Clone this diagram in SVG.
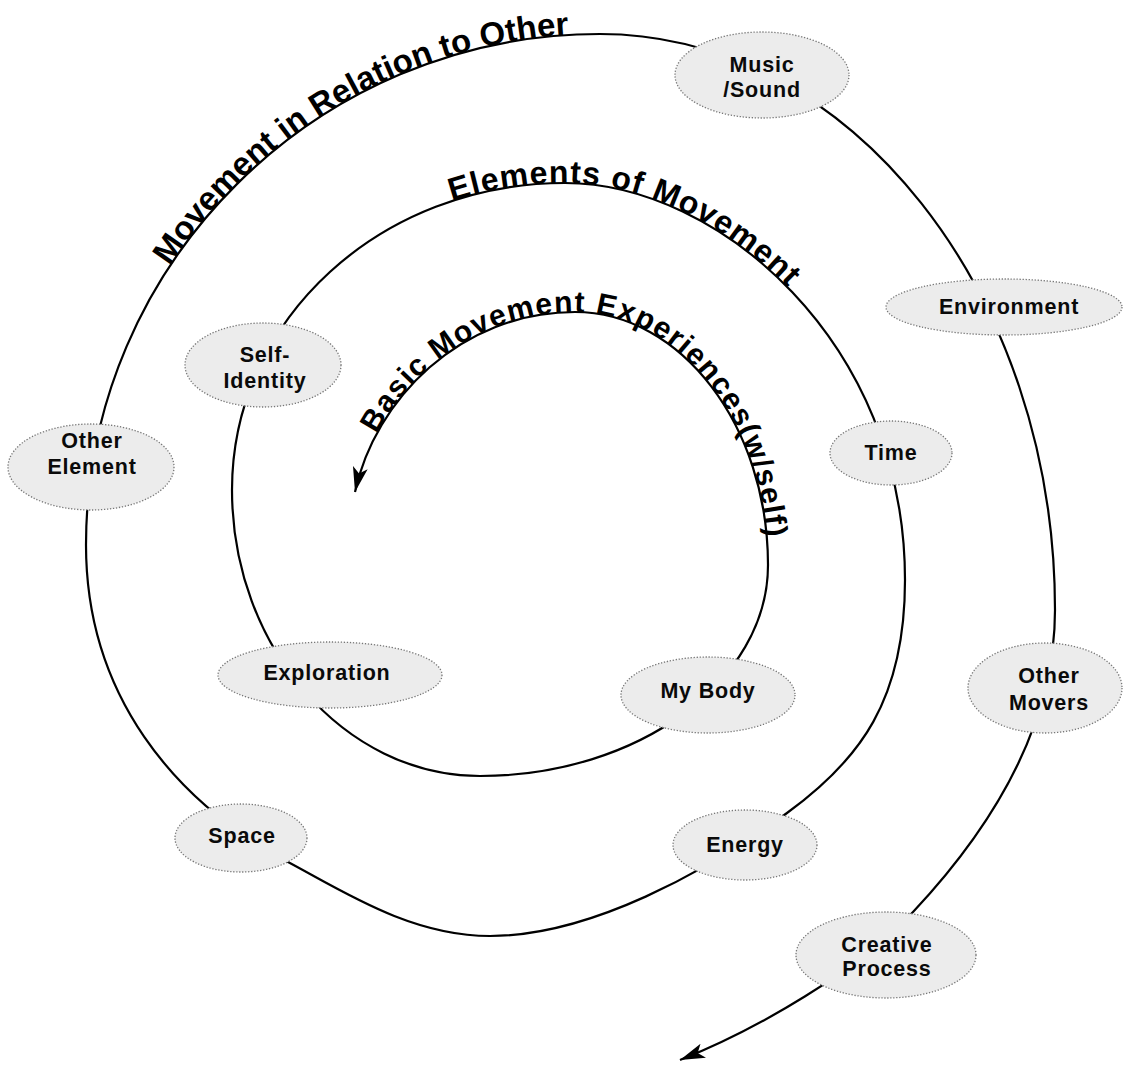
<svg xmlns="http://www.w3.org/2000/svg" xmlns:xlink="http://www.w3.org/1999/xlink" width="1124" height="1065" viewBox="0 0 1124 1065">
<style>
.node ellipse{fill:#ececec;stroke:#777;stroke-width:1.3;stroke-dasharray:1.3 1.7}
.node text{font-family:"Liberation Sans",Arial,sans-serif;font-weight:bold;font-size:21.5px;letter-spacing:0.8px;fill:#0a0a0a;text-anchor:middle}
.spiral{fill:none;stroke:#000;stroke-width:2.2}
.arc{font-family:"Liberation Sans",Arial,sans-serif;font-weight:bold;fill:#000}
</style>
<defs>
<marker id="arrow" markerUnits="userSpaceOnUse" markerWidth="26" markerHeight="18" viewBox="0 0 26 18" refX="25" refY="9" orient="auto-start-reverse">
<path d="M0,1.5 L25,9 L0,16.5 L6,9 z" fill="#000"/>
</marker>
<path id="tp1" d="M355,492 C375,400 460,312 575,312 C681,312 768,426 768,565"/>
<path id="tp2" d="M232,490 C232,318 382,183 565,183 C718,183 905,342 905,580"/>
<path id="tp3" d="M86,545 C86,264 317,34 600,34 C850,34 1055,293 1055,610"/>
</defs>
<rect width="1124" height="1065" fill="#fff"/>
<g id="connectors">
<path id="spiral" class="spiral" marker-start="url(#arrow)" marker-end="url(#arrow)" d="M355,492 C375,400 460,312 575,312 C681,312 768,426 768,565 C768,681 638,776 480,776 C344,776 232,647 232,490 C232,318 382,183 565,183 C718,183 905,342 905,580 C905,700 860,760 787,813 C706,872 590,936 490,936 C410,936 341,890 288,862 C174,801 86,695 86,545 C86,264 317,34 600,34 C850,34 1055,293 1055,610 C1055,730 988,832 913,912 C859,970 756,1030 680,1060"/>
<text class="arc" font-size="30" letter-spacing="1.3"><textPath xlink:href="#tp1" href="#tp1" startOffset="62">Basic Movement Experiences(w/self)</textPath></text>
<text class="arc" font-size="32" letter-spacing="1"><textPath xlink:href="#tp2" href="#tp2" startOffset="388">Elements of Movement</textPath></text>
<text class="arc" font-size="33" letter-spacing="0"><textPath xlink:href="#tp3" href="#tp3" startOffset="295">Movement in Relation to Other</textPath></text>
</g>
<g id="music-sound" class="node"><ellipse cx="762" cy="75" rx="87" ry="43"/><text x="762" y="72">Music</text><text x="762" y="97">/Sound</text></g>
<g id="environment" class="node"><ellipse cx="1004" cy="307" rx="118" ry="28"/><text x="1009" y="314">Environment</text></g>
<g id="time" class="node"><ellipse cx="891" cy="453" rx="61" ry="32"/><text x="891" y="460">Time</text></g>
<g id="other-movers" class="node"><ellipse cx="1045" cy="688" rx="77" ry="45"/><text x="1049" y="683">Other</text><text x="1049" y="710">Movers</text></g>
<g id="creative-process" class="node"><ellipse cx="886" cy="955" rx="90" ry="43"/><text x="887" y="952">Creative</text><text x="887" y="976">Process</text></g>
<g id="energy" class="node"><ellipse cx="745" cy="845" rx="72" ry="35"/><text x="745" y="852">Energy</text></g>
<g id="space" class="node"><ellipse cx="241" cy="838" rx="66" ry="34"/><text x="242" y="843">Space</text></g>
<g id="other-element" class="node"><ellipse cx="91" cy="467" rx="83" ry="43"/><text x="92" y="448">Other</text><text x="92" y="474">Element</text></g>
<g id="self-identity" class="node"><ellipse cx="263" cy="365" rx="78" ry="42"/><text x="265" y="362">Self-</text><text x="265" y="388">Identity</text></g>
<g id="exploration" class="node"><ellipse cx="330" cy="675" rx="112" ry="33"/><text x="327" y="680">Exploration</text></g>
<g id="my-body" class="node"><ellipse cx="708" cy="695" rx="87" ry="38"/><text x="708" y="698">My Body</text></g>
</svg>
